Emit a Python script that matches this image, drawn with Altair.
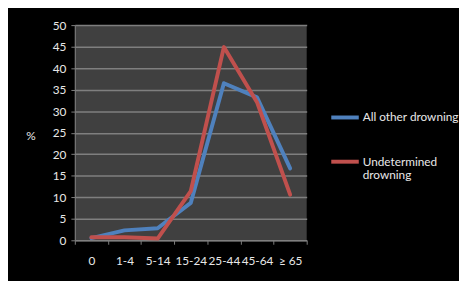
import altair as alt
import pandas as pd

ages = ["0", "1-4", "5-14", "15-24", "25-44", "45-64", "≥ 65"]
other = [0.5, 2.3, 2.8, 8.7, 36.5, 33.2, 16.7]
undetermined = [0.7, 0.7, 0.4, 11.4, 44.9, 32.1, 10.6]
series = ["All other drowning", "Undetermined drowning"]
colors = ["#4F81BD", "#C0504D"]

rows = []
for a, v in zip(ages, other):
    rows.append({"age": a, "pct": v, "series": series[0]})
for a, v in zip(ages, undetermined):
    rows.append({"age": a, "pct": v, "series": series[1]})
df = pd.DataFrame(rows)

FONT = "Lato"
TXT = "#e8e8e8"
GRID = "#7f7f7f"

chart = alt.Chart(df).mark_line(strokeWidth=4, strokeCap="round", strokeJoin="round").encode(
    x=alt.X("age:N", sort=ages, bandPosition=0.5,
            scale=alt.Scale(type="band", domain=ages, paddingInner=0, paddingOuter=0),
            axis=alt.Axis(title=None, tickBand="extent", labelAngle=0, grid=False,
                          domainColor=GRID, tickColor=GRID, tickSize=4,
                          labelPadding=12, labelColor=TXT, labelFont=FONT, labelFontSize=12)),
    y=alt.Y("pct:Q", scale=alt.Scale(domain=[0, 50], nice=False),
            axis=alt.Axis(title="%", titleAngle=0, titleX=-45, titleY=112,
                          titleAlign="center", titleBaseline="middle",
                          titleColor=TXT, titleFont=FONT, titleFontSize=12, titleFontWeight="normal",
                          values=list(range(0, 51, 5)), grid=True, gridColor=GRID, gridWidth=1.5,
                          domainColor=GRID, tickColor=GRID, tickSize=4, labelPadding=5,
                          labelColor=TXT, labelFont=FONT, labelFontSize=12)),
    color=alt.Color("series:N", scale=alt.Scale(domain=series, range=colors),
                    legend=alt.Legend(title=None, orient="none", legendX=259, legendY=78,
                                      symbolType="stroke", symbolSize=784, symbolStrokeWidth=4,
                                      labelOffset=2, labelColor=TXT, labelFont=FONT, labelFontSize=12,
                                      rowPadding=21,
                                      labelExpr="datum.label == 'Undetermined drowning' ? ['Undetermined', 'drowning'] : datum.label")),
).properties(
    width=236, height=219,
    autosize=alt.AutoSizeParams(type="none"),
    padding={"left": 68, "top": 15, "right": 155, "bottom": 39},
    background="black",
).configure_view(fill="#404040", stroke=None)

chart.save("out.html", embed_options={"renderer": "svg", "actions": False})
